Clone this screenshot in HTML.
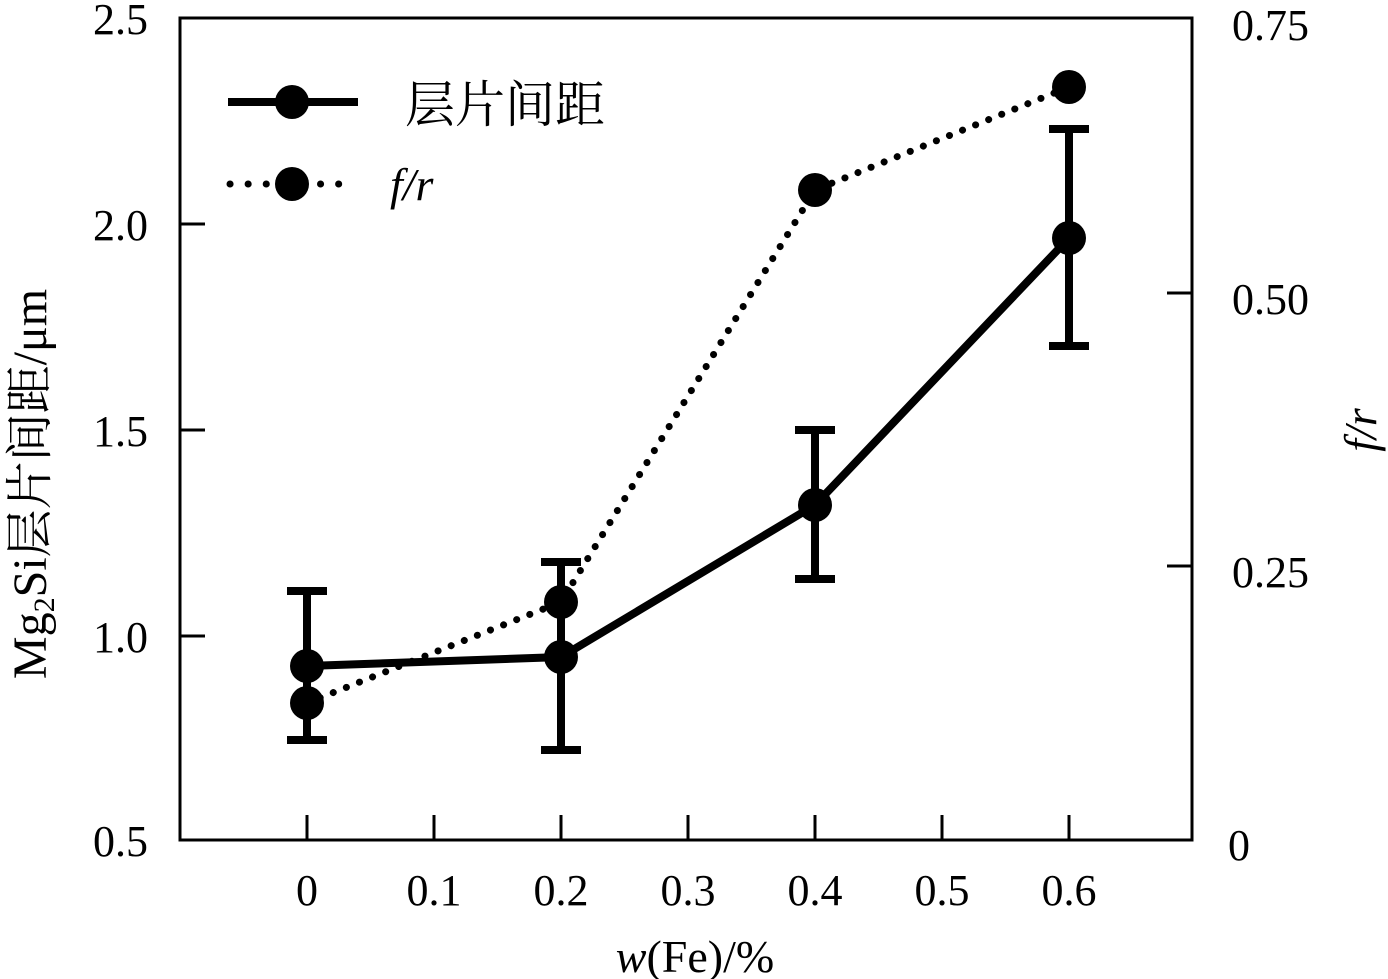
<!DOCTYPE html>
<html><head><meta charset="utf-8"><style>
html,body{margin:0;padding:0;background:#fff;}
svg{display:block;}
text{font-family:"Liberation Serif","Noto Serif CJK SC",serif;fill:#000;}
</style></head><body>
<svg width="1388" height="979" viewBox="0 0 1388 979" xmlns="http://www.w3.org/2000/svg">
<g stroke="#000" stroke-width="3" fill="none">
<rect x="180" y="18" width="1012" height="822"/>
<line x1="180" y1="224" x2="205" y2="224"/>
<line x1="180" y1="430" x2="205" y2="430"/>
<line x1="180" y1="636" x2="205" y2="636"/>
<line x1="1192" y1="293" x2="1167" y2="293"/>
<line x1="1192" y1="566" x2="1167" y2="566"/>
<line x1="307" y1="840" x2="307" y2="815"/>
<line x1="434" y1="840" x2="434" y2="815"/>
<line x1="561" y1="840" x2="561" y2="815"/>
<line x1="688" y1="840" x2="688" y2="815"/>
<line x1="815" y1="840" x2="815" y2="815"/>
<line x1="942" y1="840" x2="942" y2="815"/>
<line x1="1069" y1="840" x2="1069" y2="815"/>
</g>
<g font-size="44">
<text x="148" y="34" text-anchor="end">2.5</text>
<text x="148" y="240" text-anchor="end">2.0</text>
<text x="148" y="446" text-anchor="end">1.5</text>
<text x="148" y="652" text-anchor="end">1.0</text>
<text x="148" y="856" text-anchor="end">0.5</text>
<text x="1232" y="40">0.75</text>
<text x="1232" y="314">0.50</text>
<text x="1232" y="587">0.25</text>
<text x="1228" y="860">0</text>
<text x="307" y="905" text-anchor="middle">0</text>
<text x="434" y="905" text-anchor="middle">0.1</text>
<text x="561" y="905" text-anchor="middle">0.2</text>
<text x="688" y="905" text-anchor="middle">0.3</text>
<text x="815" y="905" text-anchor="middle">0.4</text>
<text x="942" y="905" text-anchor="middle">0.5</text>
<text x="1069" y="905" text-anchor="middle">0.6</text>
<text x="695" y="972" text-anchor="middle" font-size="46"><tspan font-style="italic">w</tspan>(Fe)/%</text>
<text transform="translate(46,484) rotate(-90)" text-anchor="middle" font-size="48">Mg<tspan font-size="30" dy="8">2</tspan><tspan dy="-8">Si层片间距/μm</tspan></text>
<text transform="translate(1376,430) rotate(-90)" text-anchor="middle" font-style="italic" font-size="46">f/r</text>
<text x="405" y="122" font-size="50">层片间距</text>
<text x="390" y="200" font-style="italic" font-size="46">f/r</text>
</g>
<g stroke="#000" stroke-width="8" fill="none">
<polyline points="307,666 561,657 815,505 1069,238"/>
<line x1="307" y1="591" x2="307" y2="740"/><line x1="287" y1="591" x2="327" y2="591"/><line x1="287" y1="740" x2="327" y2="740"/>
<line x1="561" y1="562" x2="561" y2="750"/><line x1="541" y1="562" x2="581" y2="562"/><line x1="541" y1="750" x2="581" y2="750"/>
<line x1="815" y1="430" x2="815" y2="579"/><line x1="795" y1="430" x2="835" y2="430"/><line x1="795" y1="579" x2="835" y2="579"/>
<line x1="1069" y1="129" x2="1069" y2="346"/><line x1="1049" y1="129" x2="1089" y2="129"/><line x1="1049" y1="346" x2="1089" y2="346"/>
<line x1="228" y1="102" x2="358" y2="102"/>
</g>
<g stroke="#000" stroke-width="7" fill="none" stroke-linecap="round">
<polyline points="307,703 561,602 815,190 1069,87" stroke-dasharray="0.1,14"/>
<line x1="230" y1="184" x2="345" y2="184" stroke-dasharray="0.1,18"/>
</g>
<g fill="#000">
<circle cx="307" cy="666" r="17"/><circle cx="561" cy="657" r="17"/><circle cx="815" cy="505" r="17"/><circle cx="1069" cy="238" r="17"/>
<circle cx="307" cy="703" r="17"/><circle cx="561" cy="602" r="17"/><circle cx="815" cy="190" r="17"/><circle cx="1069" cy="87" r="17"/>
<circle cx="292" cy="102" r="17"/><circle cx="292" cy="184" r="17"/>
</g>
</svg>
</body></html>
